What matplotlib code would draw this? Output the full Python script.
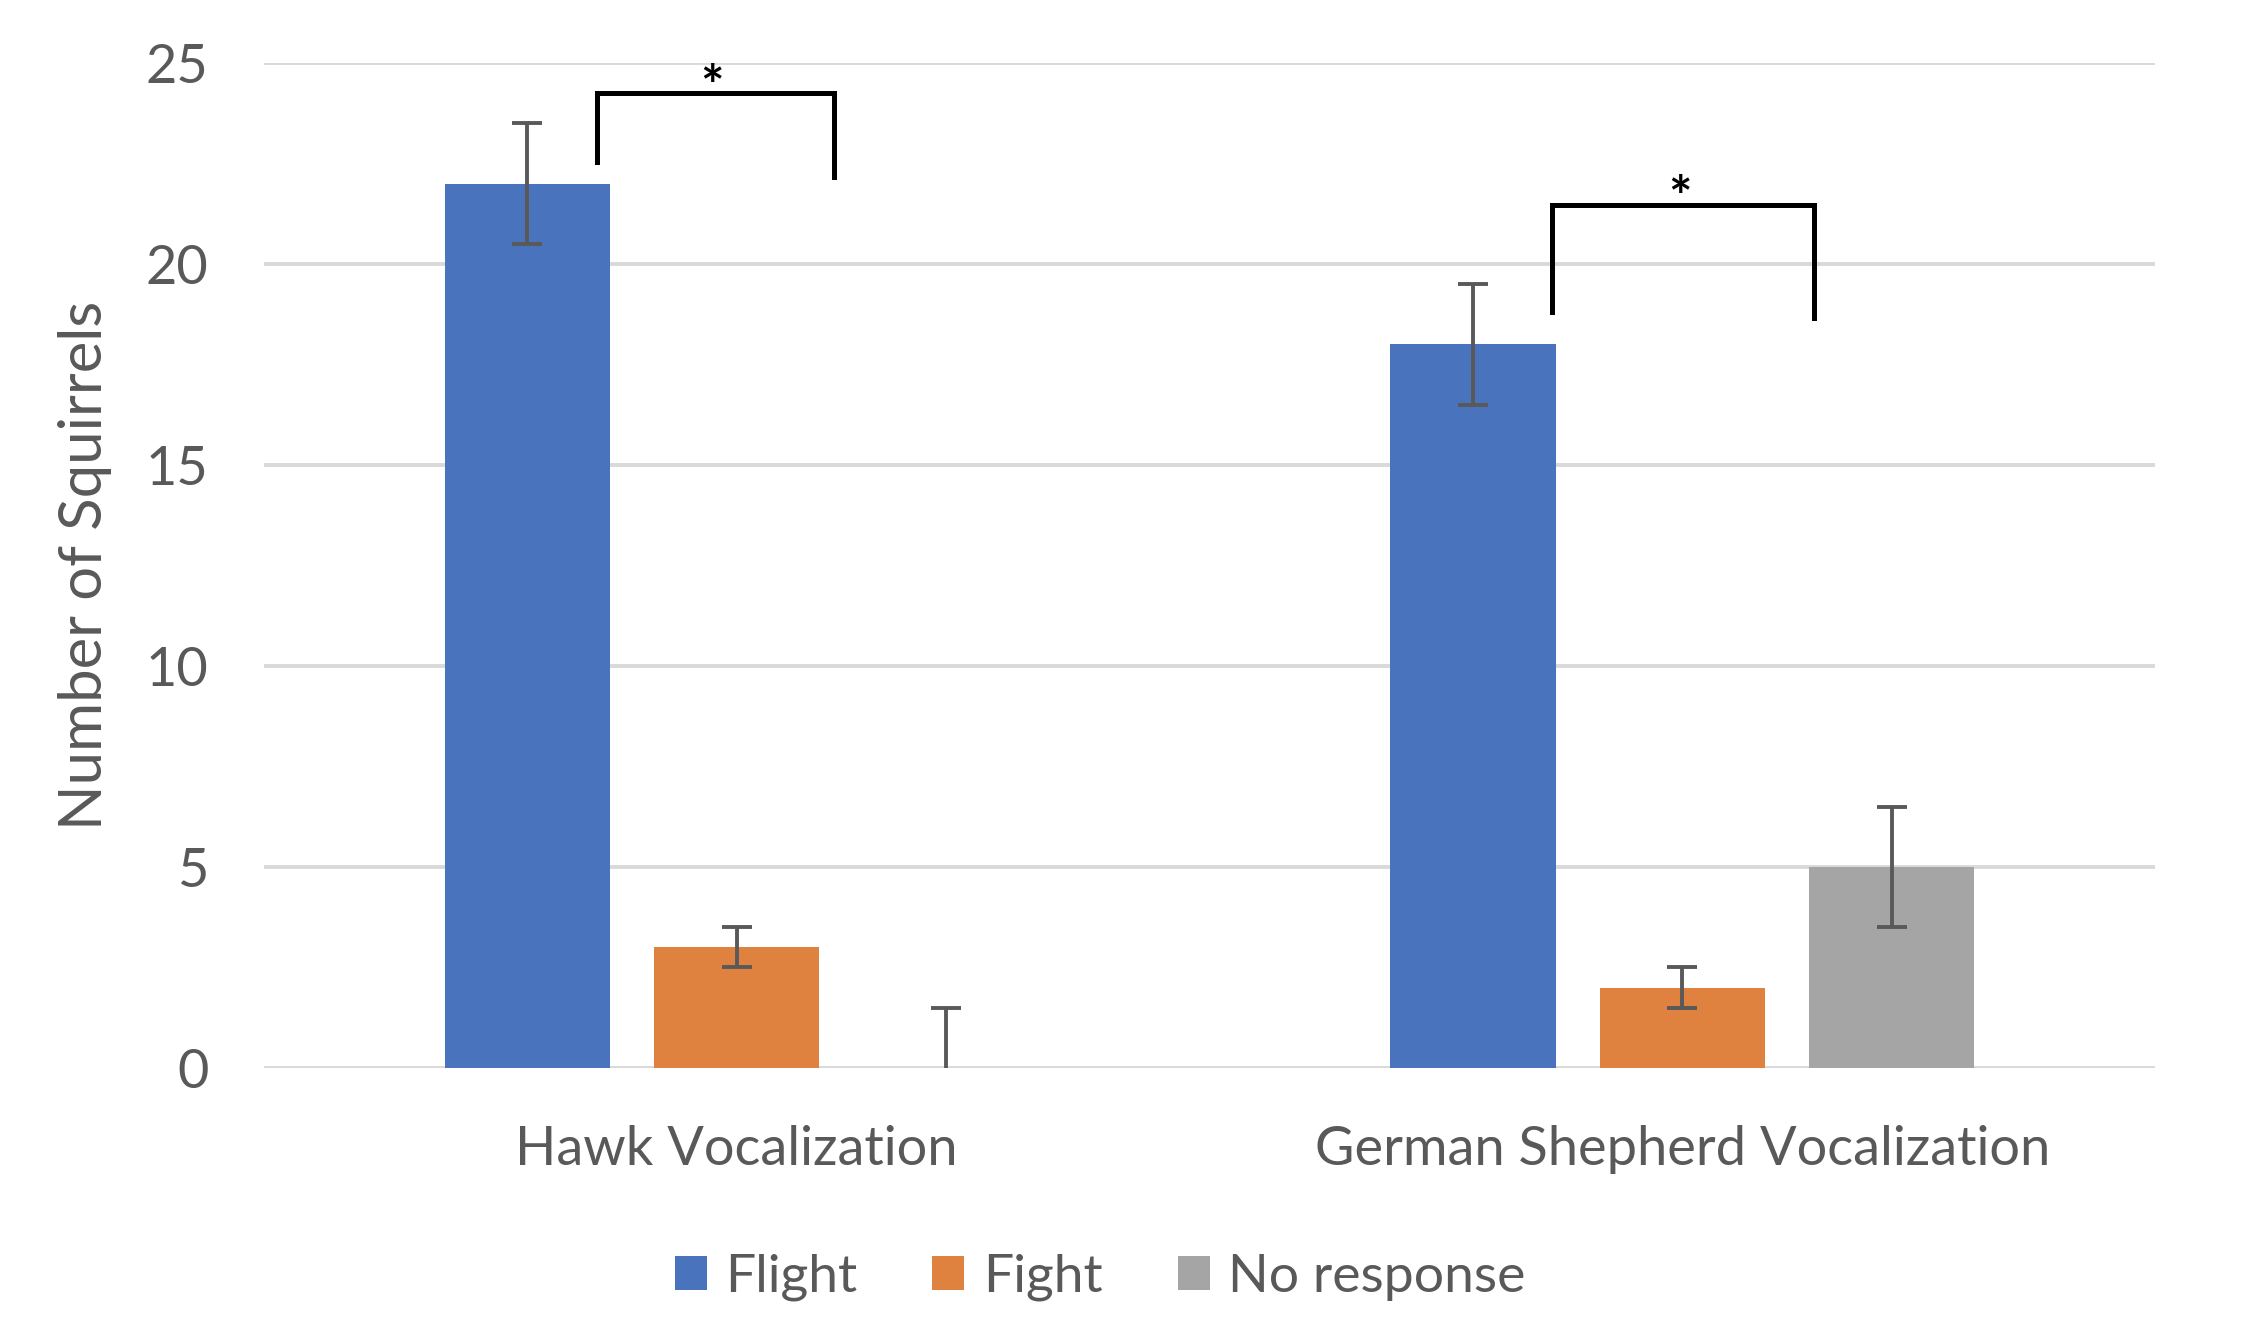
import matplotlib
matplotlib.use("Agg")
import matplotlib.pyplot as plt
import numpy as np

# data
categories = ["Hawk Vocalization", "German Shepherd Vocalization"]
series = ["Flight", "Fight", "No response"]
flight = [22, 18]
fight = [3, 2]
no_response = [0, 5]
flight_err = [1.5, 1.5]
fight_err = [0.5, 0.5]
no_response_err = [1.5, 1.5]
colors = ["#4A73BE", "#E0823F", "#A5A5A5"]

plt.rcParams["font.family"] = ["Lato", "DejaVu Sans"]

fig = plt.figure(figsize=(22.5, 13.42), dpi=100)
ax = fig.add_axes([0.1173, 0.2042, 0.8405, 0.7489])

x = np.arange(len(categories))
width = 0.175
step = 0.2215
values = [flight, fight, no_response]
errs = [flight_err, fight_err, no_response_err]
for i, (vals, err, col, name) in enumerate(zip(values, errs, colors, series)):
    ax.bar(x + (i - 1) * step, vals, width, color=col, label=name, zorder=3)
    ax.errorbar(x + (i - 1) * step, vals, yerr=err, fmt="none", ecolor="#595959",
                elinewidth=2.8, capsize=10.5, capthick=2.8, zorder=4)

# significance brackets
def bracket(x0, x1, y_top, y0, y1, star_x, star_y):
    ax.plot([x0, x0, x1, x1], [y0, y_top, y_top, y1], color="black", lw=3.6,
            solid_joinstyle="miter", zorder=5, clip_on=False)
    ax.text(star_x, star_y, "*", ha="center", va="center", fontsize=40,
            fontweight="bold", color="black")

bracket(-0.148, 0.103, 24.25, 22.54, 22.16, -0.026, 24.35)
bracket(0.862, 1.139, 21.47, 18.81, 18.66, 0.998, 21.6)

ax.set_xlim(-0.5, 1.5)
ax.set_ylim(0, 25)
ax.set_yticks([0, 5, 10, 15, 20, 25])
ax.set_xticks(x)
ax.set_xticklabels(categories)
ax.tick_params(axis="both", length=0, labelsize=39, colors="#595959")
ax.tick_params(axis="y", pad=40)
ax.tick_params(axis="x", pad=41)
ax.grid(axis="y", color="#D9D9D9", lw=2.8, zorder=0)
for s in ax.spines.values():
    s.set_visible(False)
ax.set_ylabel("Number of Squirrels", fontsize=43, color="#595959", labelpad=24)

fig.legend(loc="center", bbox_to_anchor=(0.489, 0.048), ncol=3, frameon=False,
           fontsize=38.5, handlelength=0.6, handleheight=0.6, handletextpad=0.35,
           columnspacing=1.4, labelcolor="#595959")

fig.savefig("out.png", dpi=100)
